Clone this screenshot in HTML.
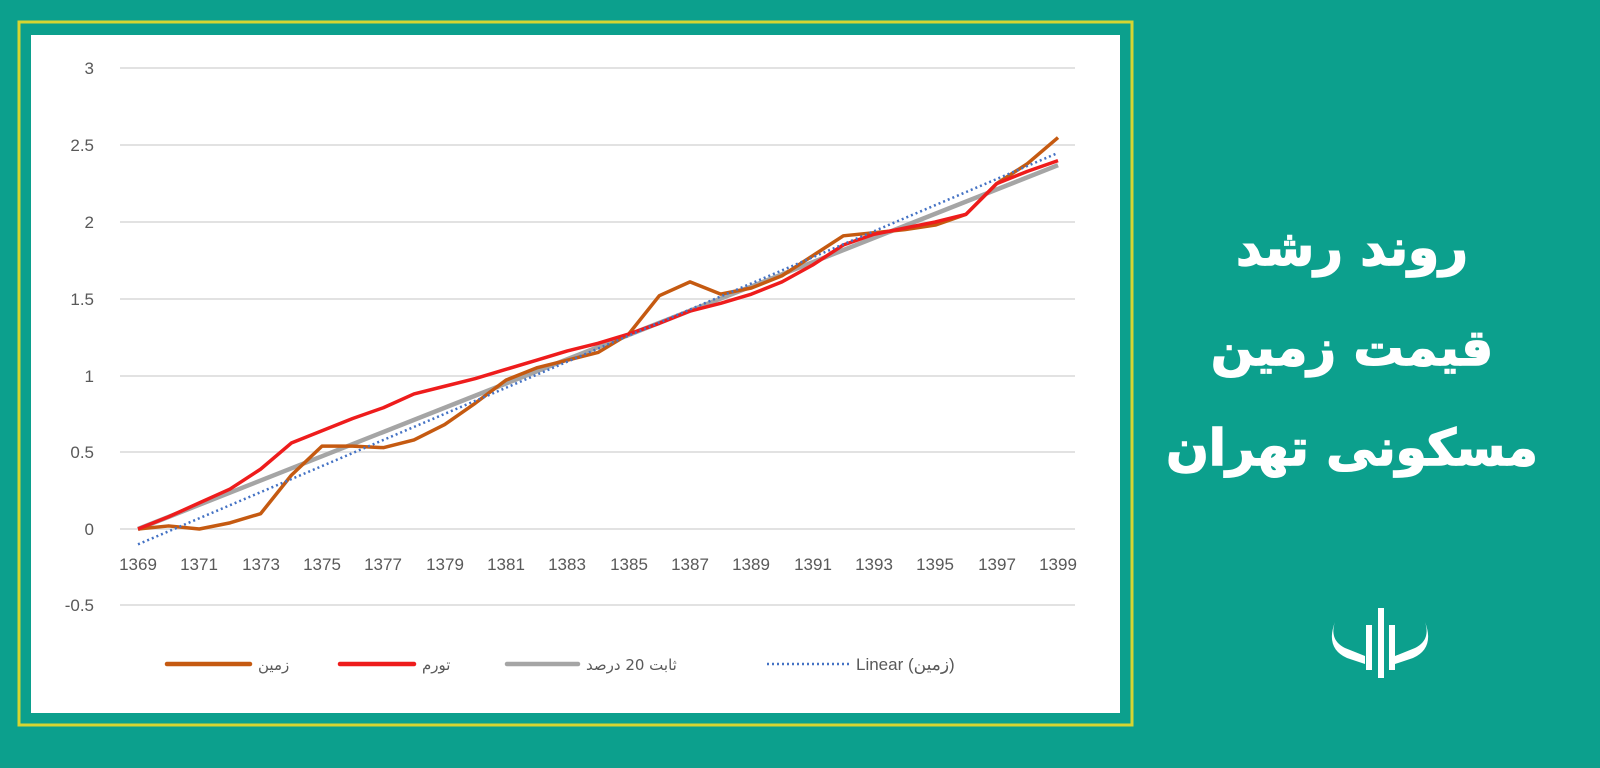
<!DOCTYPE html>
<html><head><meta charset="utf-8"><style>
body{margin:0;width:1600px;height:763px;background:#0f9f8c;overflow:hidden;font-family:"Liberation Sans","DejaVu Sans",sans-serif}
</style></head><body>
<svg width="1600" height="763" viewBox="0 0 1600 763" xmlns="http://www.w3.org/2000/svg">
<rect x="0" y="0" width="1600" height="763" fill="#0ca08d"/>
<rect x="19" y="22" width="1113" height="703" fill="none" stroke="#d6d531" stroke-width="3"/>
<rect x="31" y="35" width="1089" height="678" fill="#ffffff"/>
<g stroke="#d9d9d9" stroke-width="1.5">
<line x1="120" x2="1075" y1="68" y2="68"/><line x1="120" x2="1075" y1="145" y2="145"/>
<line x1="120" x2="1075" y1="222" y2="222"/><line x1="120" x2="1075" y1="299" y2="299"/>
<line x1="120" x2="1075" y1="376" y2="376"/><line x1="120" x2="1075" y1="452" y2="452"/>
<line x1="120" x2="1075" y1="529" y2="529"/><line x1="120" x2="1075" y1="605" y2="605"/>
</g>
<g font-size="17" fill="#595959" text-anchor="end">
<text x="94" y="74">3</text><text x="94" y="151">2.5</text><text x="94" y="228">2</text>
<text x="94" y="305">1.5</text><text x="94" y="382">1</text><text x="94" y="458">0.5</text>
<text x="94" y="535">0</text><text x="94" y="611">-0.5</text>
</g>
<g font-size="17" fill="#595959" text-anchor="middle">
<text x="138" y="570">1369</text><text x="199" y="570">1371</text><text x="261" y="570">1373</text>
<text x="322" y="570">1375</text><text x="383" y="570">1377</text><text x="445" y="570">1379</text>
<text x="506" y="570">1381</text><text x="567" y="570">1383</text><text x="629" y="570">1385</text>
<text x="690" y="570">1387</text><text x="751" y="570">1389</text><text x="813" y="570">1391</text>
<text x="874" y="570">1393</text><text x="935" y="570">1395</text><text x="997" y="570">1397</text>
<text x="1058" y="570">1399</text>
</g>
<g transform="translate(138,529) scale(30.667,-153.5)" fill="none">
<polyline vector-effect="non-scaling-stroke" stroke="#a5a5a5" stroke-width="4.5" points="0,0 30,2.37"/>
<polyline vector-effect="non-scaling-stroke" stroke="#c55a11" stroke-width="3.5" stroke-linejoin="round" points="0,0 1,0.02 2,0 3,0.04 4,0.1 5,0.35 6,0.54 7,0.54 8,0.53 9,0.58 10,0.68 11,0.82 12,0.97 13,1.05 14,1.1 15,1.15 16,1.27 17,1.52 18,1.61 19,1.53 20,1.57 21,1.65 22,1.78 23,1.91 24,1.93 25,1.95 26,1.98 27,2.05 28,2.25 29,2.38 30,2.55"/>
<polyline vector-effect="non-scaling-stroke" stroke="#ee1c1c" stroke-width="3.5" stroke-linejoin="round" points="0,0 1,0.08 2,0.17 3,0.26 4,0.39 5,0.56 6,0.64 7,0.72 8,0.79 9,0.88 10,0.93 11,0.98 12,1.04 13,1.1 14,1.16 15,1.21 16,1.27 17,1.34 18,1.42 19,1.47 20,1.53 21,1.61 22,1.72 23,1.85 24,1.92 25,1.96 26,2.0 27,2.05 28,2.25 29,2.33 30,2.4"/>
<polyline vector-effect="non-scaling-stroke" stroke="#4472c4" stroke-width="2.5" stroke-dasharray="2 3" points="0,-0.1 30,2.45"/>
</g>
<g font-family="'DejaVu Sans',sans-serif" font-size="15" fill="#595959">
<line x1="167" x2="250" y1="664" y2="664" stroke="#c55a11" stroke-width="4.5" stroke-linecap="round"/>
<text x="258" y="670">زمین</text>
<line x1="340" x2="414" y1="664" y2="664" stroke="#ee1c1c" stroke-width="4.5" stroke-linecap="round"/>
<text x="422" y="670">تورم</text>
<line x1="507" x2="578" y1="664" y2="664" stroke="#a5a5a5" stroke-width="4.5" stroke-linecap="round"/>
<text x="586" y="670">ثابت 20 درصد</text>
<line x1="767" x2="852" y1="664" y2="664" stroke="#4472c4" stroke-width="2.5" stroke-dasharray="2 3"/>
<text x="856" y="670" font-family="'Liberation Sans','DejaVu Sans',sans-serif" font-size="17">Linear (زمین)</text>
</g>
<g font-family="'DejaVu Sans',sans-serif" font-weight="bold" font-size="50" fill="#ffffff" stroke="#ffffff" stroke-width="1.5" text-anchor="middle" direction="rtl">
<text x="1352" y="265">روند رشد</text>
<text x="1352" y="365">قیمت زمین</text>
<text x="1352" y="465">مسکونی تهران</text>
</g>
<g fill="#ffffff">
<rect x="1378" y="608" width="6" height="70"/>
<rect x="1366" y="625" width="6" height="45"/>
<path d="M1335,622 q-6,18 10,26 l20,8 l0,8 l-18,-6 q-22,-10 -12,-36z"/>
<path d="M1425,622 q6,18 -10,26 l-20,8 l0,8 l18,-6 q22,-10 12,-36z"/>
<rect x="1389" y="625" width="6" height="45"/>
</g>
</svg>
</body></html>
